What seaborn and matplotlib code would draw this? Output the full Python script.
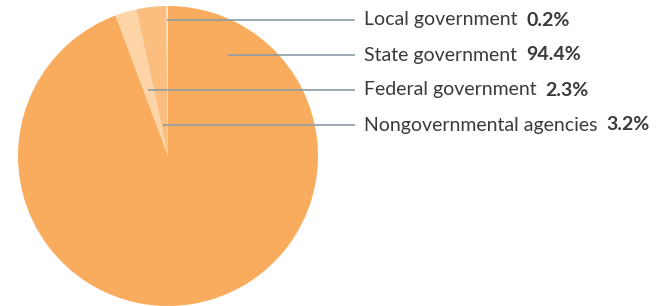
import matplotlib
matplotlib.use("Agg")
import matplotlib.pyplot as plt
import seaborn as sns

# data (counter-clockwise from 12 o'clock)
labels = ["Local government", "Nongovernmental agencies", "Federal government", "State government"]
shares = [0.2, 3.2, 2.3, 94.4]
colors = ["#FDE3C4", "#FBBE7E", "#FDD4A6", "#F9AC5D"]

# label list order (top to bottom) and where the leader line starts on the pie
legend_order = ["Local government", "State government", "Federal government", "Nongovernmental agencies"]
line_start_x = [167, 228, 148, 163]
line_y = [20, 55, 90, 125]

sns.set_theme(style="white")
plt.rcParams['font.family'] = ['Lato', 'DejaVu Sans']

fig = plt.figure(figsize=(6.71, 3.06), dpi=100)
ax = fig.add_axes([0, 0, 1, 1])

# y axis is flipped below, so counterclock=False keeps the visual direction
ax.pie(shares, colors=colors, startangle=-90, counterclock=False,
       center=(168, 156), radius=150, frame=True,
       wedgeprops=dict(linewidth=0))
ax.set_xlim(0, 671)
ax.set_ylim(306, 0)
ax.set_aspect("equal")
ax.axis("off")

fig.canvas.draw()
renderer = fig.canvas.get_renderer()
for name, x0, y in zip(legend_order, line_start_x, line_y):
    val = shares[labels.index(name)]
    ax.plot([x0, 355], [y, y], color="#8E9CA6", lw=1.2, solid_capstyle="butt")
    t = ax.text(364, y, name, fontsize=14, color="#3A3A3A", va="center", ha="left")
    bb = t.get_window_extent(renderer).transformed(ax.transData.inverted())
    ax.text(bb.x1 + 9, y, f"{val}%", fontsize=14, fontweight="bold",
            color="#3A3A3A", va="center", ha="left")

fig.savefig("out.png", dpi=100)
